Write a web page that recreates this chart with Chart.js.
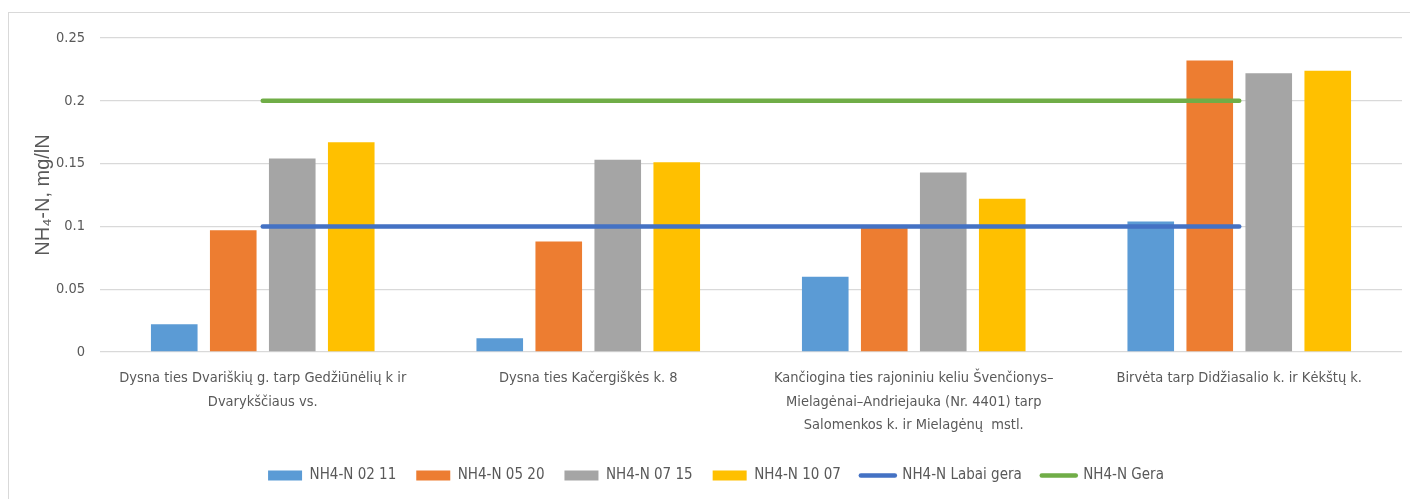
<!DOCTYPE html>
<html>
<head>
<meta charset="utf-8">
<script src="https://cdn.jsdelivr.net/npm/chart.js@4.4.1/dist/chart.umd.min.js"></script>
<style>
  html, body { margin: 0; padding: 0; background: #ffffff; }
  #wrap { position: relative; width: 1410px; height: 499px; }
</style>
</head>
<body>
<div id="wrap"><canvas id="c" width="1410" height="499"></canvas></div>
<script>
const categories = [
  ['Dysna ties Dvariškių g. tarp Gedžiūnėlių k ir', 'Dvarykščiaus vs.'],
  ['Dysna ties Kačergiškės k. 8'],
  ['Kančiogina ties rajoniniu keliu Švenčionys–', 'Mielagėnai–Andriejauka (Nr. 4401) tarp', 'Salomenkos k. ir Mielagėnų  mstl.'],
  ['Birvėta tarp Didžiasalio k. ir Kėkštų k.']
];
const seriesNames = ['NH4-N 02 11', 'NH4-N 05 20', 'NH4-N 07 15', 'NH4-N 10 07', 'NH4-N Labai gera', 'NH4-N Gera'];
const nh4_0211 = [0.022, 0.011, 0.060, 0.104];
const nh4_0520 = [0.097, 0.088, 0.099, 0.232];
const nh4_0715 = [0.154, 0.153, 0.143, 0.222];
const nh4_1007 = [0.167, 0.151, 0.122, 0.224];
const labaiGera = [0.1, 0.1, 0.1, 0.1];
const gera = [0.2, 0.2, 0.2, 0.2];
const yTickLabels = ['0', '0.05', '0.1', '0.15', '0.2', '0.25'];
const yTitle = 'NH₄-N, mg/lN';

const NARROW = "'Liberation Sans Narrow', 'DejaVu Sans Condensed', sans-serif";
const TXT = '#595959';

const borderPlugin = {
  id: 'outerBorder',
  beforeDraw(chart) {
    const ctx = chart.ctx;
    ctx.save();
    ctx.fillStyle = '#ffffff';
    ctx.fillRect(0, 0, chart.width, chart.height);
    ctx.strokeStyle = '#d9d9d9';
    ctx.lineWidth = 1;
    ctx.strokeRect(8.5, 12.5, 1500, 600);
    ctx.restore();
  }
};

function bar(label, data, color) {
  return { type: 'bar', label, data, backgroundColor: color, borderWidth: 0, order: 1,
           categoryPercentage: 0.725, barPercentage: 0.79 };
}
function line(label, data, color) {
  return { type: 'line', label, data, borderColor: color, backgroundColor: color, borderWidth: 4.5,
           pointRadius: 0, pointHoverRadius: 0, borderCapStyle: 'round', fill: false, order: 0 };
}

new Chart(document.getElementById('c'), {
  data: {
    labels: categories,
    datasets: [
      bar(seriesNames[0], nh4_0211, '#5B9BD5'),
      bar(seriesNames[1], nh4_0520, '#ED7D31'),
      bar(seriesNames[2], nh4_0715, '#A5A5A5'),
      bar(seriesNames[3], nh4_1007, '#FFC000'),
      line(seriesNames[4], labaiGera, '#4472C4'),
      line(seriesNames[5], gera, '#70AD47')
    ]
  },
  options: {
    responsive: false,
    animation: false,
    devicePixelRatio: 1,
    layout: { padding: { left: 30, right: 8, top: 38, bottom: 6 } },
    plugins: {
      tooltip: { enabled: false },
      legend: {
        position: 'bottom',
        labels: {
          usePointStyle: true,
          pointStyleWidth: 34,
          boxHeight: 10,
          padding: 20,
          color: TXT,
          font: { family: NARROW, size: 15 },
          sort: (a, b) => a.datasetIndex - b.datasetIndex,
          generateLabels(chart) {
            return chart.data.datasets.map((ds, i) => {
              const isLine = ds.type === 'line';
              return {
                text: ds.label,
                datasetIndex: i,
                fillStyle: isLine ? ds.borderColor : ds.backgroundColor,
                strokeStyle: isLine ? ds.borderColor : ds.backgroundColor,
                lineWidth: isLine ? 4.5 : 0,
                lineCap: 'round',
                pointStyle: isLine ? 'line' : 'rect',
                hidden: false,
                fontColor: TXT
              };
            });
          }
        }
      }
    },
    scales: {
      x: {
        grid: { display: false, drawTicks: false },
        border: { display: false },
        ticks: {
          padding: 15,
          color: TXT,
          maxRotation: 0,
          autoSkip: false,
          font: { family: NARROW, size: 14.5, lineHeight: 1.6 }
        },
        afterFit(scale) { scale.height = 96; }
      },
      y: {
        min: 0,
        max: 0.25,
        grid: { color: '#d9d9d9', lineWidth: 1.3, drawTicks: false },
        border: { display: false },
        ticks: {
          stepSize: 0.05,
          padding: 15,
          color: TXT,
          font: { family: NARROW, size: 14.5 },
          callback: (v, i) => yTickLabels[i]
        },
        title: {
          display: true,
          text: yTitle,
          color: TXT,
          font: { family: "'Liberation Sans', Arial, sans-serif", size: 20, lineHeight: 1.2 },
          padding: { top: 1, bottom: 0 }
        },
        afterFit(scale) { scale.width = 70; }
      }
    }
  },
  plugins: [borderPlugin]
});
</script>
</body>
</html>
